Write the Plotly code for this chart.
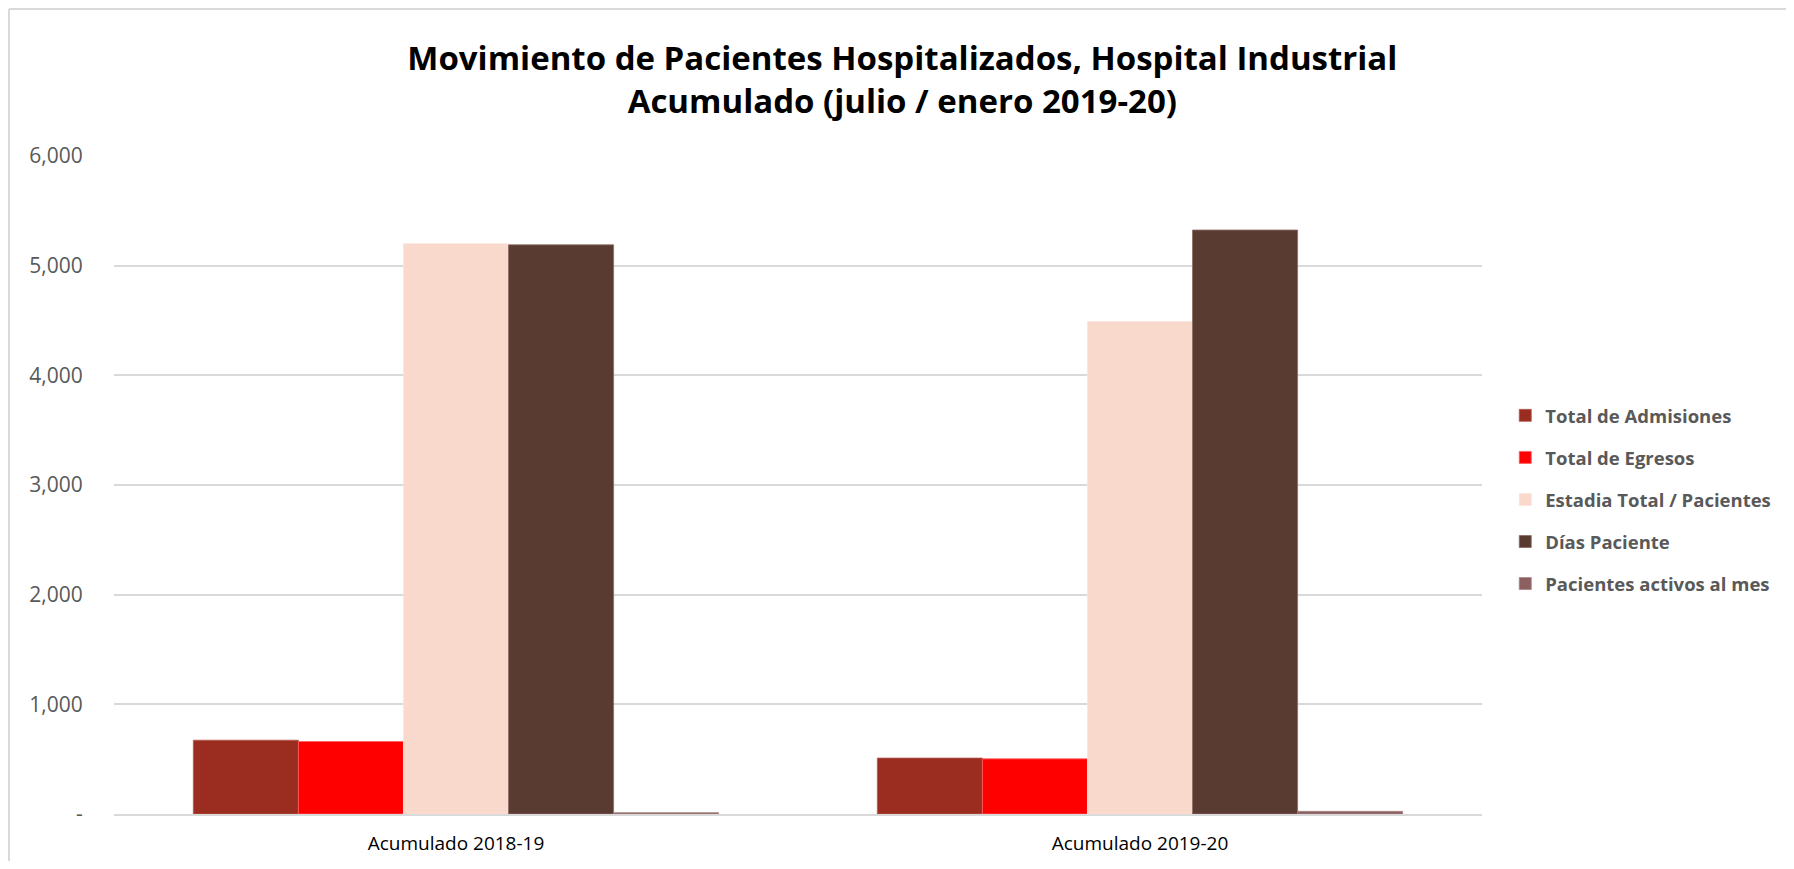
import plotly.graph_objects as go

categories = ["Acumulado 2018-19", "Acumulado 2019-20"]
series_names = ["Total de Admisiones", "Total de Egresos", "Estadia Total / Pacientes",
                "Días Paciente", "Pacientes activos al mes"]
admisiones = [673, 510]
egresos = [661, 503]
estadia = [5200, 4490]
dias_paciente = [5190, 5325]
activos = [12, 24]
series_values = [admisiones, egresos, estadia, dias_paciente, activos]
colors = ["#9B2D20", "#FF0000", "#F8D9CC", "#5A3B32", "#8C5F60"]
line_colors = ["#B45A4E", "#FF6060", "#FBE6DD", "#8A6B63", "#A88585"]

y_tickvals = [0, 1000, 2000, 3000, 4000, 5000, 6000]
y_ticktext = ["-", "1,000", "2,000", "3,000", "4,000", "5,000", "6,000"]

W, H = 1778, 853
L, R, T, B = 106, 304, 148, 47
PW, PH = W - L - R, H - T - B

fig = go.Figure()
for name, vals, c, lc in zip(series_names, series_values, colors, line_colors):
    fig.add_trace(go.Bar(
        x=categories, y=vals, name=name, legendgroup=name,
        marker=dict(color=c, line=dict(color=lc, width=0.8)),
    ))

fig.update_layout(
    width=W, height=H,
    paper_bgcolor="white", plot_bgcolor="white",
    margin=dict(l=L, r=R, t=T, b=B, autoexpand=False),
    barmode="group", bargap=0.232, bargroupgap=0,
    font=dict(family="Open Sans", color="#595959"),
    title=dict(
        text="Movimiento de Pacientes Hospitalizados, Hospital Industrial<br>Acumulado (julio / enero 2019-20)",
        x=0.503, xref="container", xanchor="center",
        y=1 - 62 / H, yref="container", yanchor="middle",
        font=dict(family="Open Sans", size=33, color="#000000", weight="bold"),
    ),
    legend=dict(
        x=1.017, xanchor="left", y=0.634, yanchor="top",
        font=dict(family="Open Sans", size=18.5, color="#595959", weight="bold"),
        tracegroupgap=15, itemwidth=30, traceorder="grouped",
    ),
    xaxis=dict(
        showgrid=False, showline=True, linecolor="#D9D9D9", linewidth=1.5,
        tickfont=dict(family="Open Sans", size=19, color="#000000"),
        ticks="outside", ticklen=11, tickcolor="rgba(0,0,0,0)",
    ),
    yaxis=dict(
        range=[0, 6000], tickvals=y_tickvals, ticktext=y_ticktext,
        showgrid=True, gridcolor="#D9D9D9", gridwidth=1.5,
        zeroline=False,
        tickfont=dict(family="Open Sans", size=21, color="#595959"),
        ticks="outside", ticklen=26, tickcolor="rgba(0,0,0,0)",
    ),
    shapes=[
        dict(type="line", xref="paper", yref="paper", x0=(1 - L) / PW, x1=(1 - L) / PW,
             y0=-0.2, y1=(T + PH - 1) / PH, line=dict(color="#D9D9D9", width=2)),
        dict(type="line", xref="paper", yref="paper", x0=(1 - L) / PW, x1=1.3,
             y0=(T + PH - 1) / PH, y1=(T + PH - 1) / PH, line=dict(color="#D9D9D9", width=2)),
    ],
)

fig.write_html("out.html")
